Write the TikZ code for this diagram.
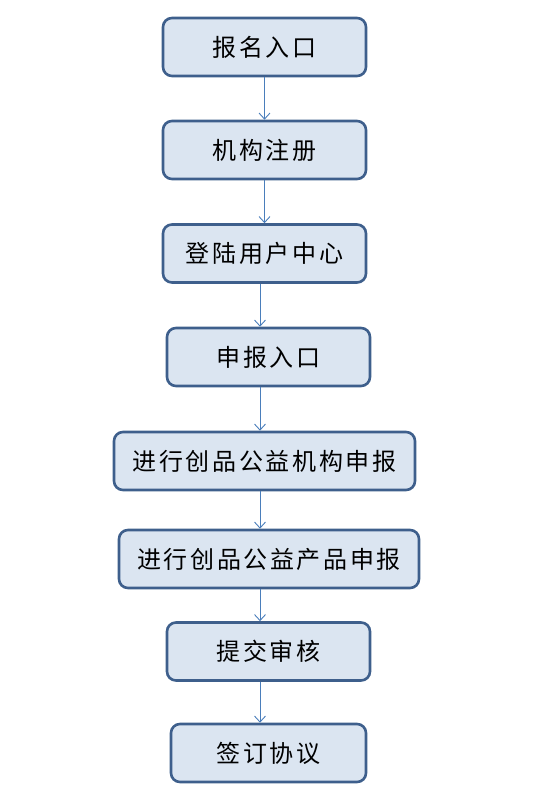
\documentclass[tikz,border=0pt]{standalone}
\usepackage{fontspec}
\newfontfamily\cjk[LetterSpace=11]{Noto Sans CJK SC}
\usetikzlibrary{arrows.meta}
\definecolor{boxfill}{HTML}{DBE5F1}
\definecolor{boxline}{HTML}{3E5F8C}
\definecolor{arrowline}{HTML}{4A7EBB}
\begin{document}
\begin{tikzpicture}[x=1pt,y=-1pt,
  stepbox/.style={draw=boxline,fill=boxfill,line width=2.6pt,rounded corners=9pt,
    minimum height=58pt,inner sep=0pt,font=\cjk\fontsize{24}{28}\selectfont,text=black},
  flow/.style={draw=arrowline,line width=0.9pt,-{Straight Barb[length=6pt,width=11pt,line width=0.9pt]}}]
\useasboundingbox (0,0) rectangle (541,794);
\node[stepbox,minimum width=203pt] (b1) at (264.5,47) {报名入口};
\node[stepbox,minimum width=203pt] (b2) at (264.5,150) {机构注册};
\node[stepbox,minimum width=203pt] (b3) at (264.5,253.5) {登陆用户中心};
\node[stepbox,minimum width=203pt] (b4) at (268.5,357) {申报入口};
\node[stepbox,minimum width=301pt] (b5) at (264.5,461) {进行创品公益机构申报};
\node[stepbox,minimum width=300pt] (b6) at (269,559) {进行创品公益产品申报};
\node[stepbox,minimum width=203pt] (b7) at (268.5,651.5) {提交审核};
\node[stepbox,minimum width=195pt] (b8) at (268.5,753) {签订协议};
\coordinate (a1) at (264.5,0);
\coordinate (a2) at (260,0);
\draw[flow] (b1.south -| a1) -- (b2.north -| a1);
\draw[flow] (b2.south -| a1) -- (b3.north -| a1);
\draw[flow] (b3.south -| a2) -- (b4.north -| a2);
\draw[flow] (b4.south -| a2) -- (b5.north -| a2);
\draw[flow] (b5.south -| a2) -- (b6.north -| a2);
\draw[flow] (b6.south -| a2) -- (b7.north -| a2);
\draw[flow] (b7.south -| a2) -- (b8.north -| a2);
\end{tikzpicture}
\end{document}
